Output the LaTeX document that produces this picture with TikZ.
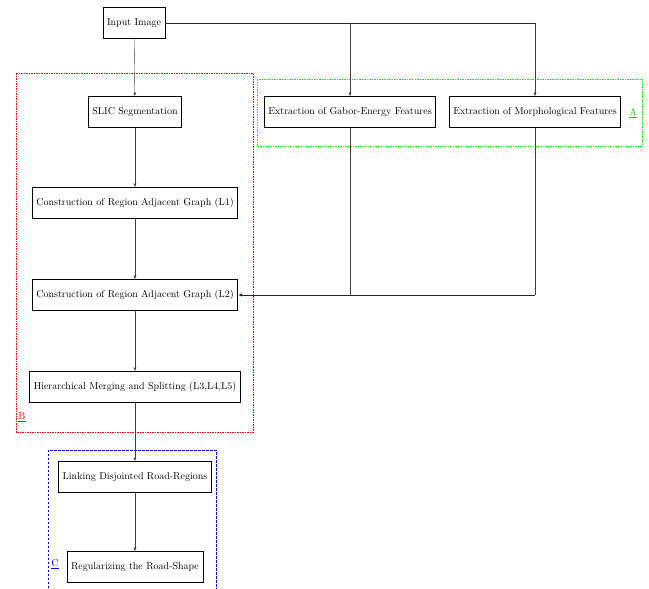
\documentclass[tikz,border=0pt]{standalone}
\usetikzlibrary{arrows.meta,calc}
\begin{document}
\begin{tikzpicture}[x=1pt,y=-1pt,
    stepbox/.style={draw, thick, minimum height=31pt, inner sep=4pt},
    flow/.style={draw=black!75, -{Latex[length=3.5pt,width=3pt]}},
    busline/.style={draw=black!85, thick}]
		%%%%% START %%%%%
		\useasboundingbox (0,0) rectangle (649,589);
		
		% groups
		\draw[red, dash pattern=on 1.5pt off 1pt] (16,73) rectangle (253,432);
		\draw[green, dash pattern=on 1.5pt off 1pt, thick] (257,79) rectangle (642,146);
		\draw[blue, dash pattern=on 2.5pt off 1.5pt] (48,592) |- (216,450) -- (216,592);
		\node[text=green!80!black] (labA) at (633,113) {\underline{A}};
		\node[text=red] (labB) at (22,417) {\underline{B}};
		\node[text=blue] (labC) at (55,564) {\underline{C}};
		
		% steps
		\node[stepbox] (input) at (134,23) {Input Image};
		\node[stepbox] (slic) at (135,112) {SLIC Segmentation};
		\node[stepbox] (rag1) at (135,203) {Construction of Region Adjacent Graph (L1)};
		\node[stepbox] (rag2) at (135,295) {Construction of Region Adjacent Graph (L2)};
		\node[stepbox] (merge) at (135,387) {Hierarchical Merging and Splitting (L3,L4,L5)};
		\node[stepbox] (link) at (135,477) {Linking Disjointed Road-Regions};
		\node[stepbox] (regular) at (135,567) {Regularizing the Road-Shape};
		\node[stepbox] (gabor) at (350,112) {Extraction of Gabor-Energy Features};
		\node[stepbox] (morph) at (535,112) {Extraction of Morphological Features};
		
		% connectors
		\draw[flow] (input) -- (slic);
		\draw[flow] (slic) -- (rag1);
		\draw[flow] (rag1) -- (rag2);
		\draw[flow] (rag2) -- (merge);
		\draw[flow] (merge) -- (link);
		\draw[flow] (link) -- (regular);
		\draw[busline] (input.east) -- (input.east -| morph.north);
		\draw[flow] (input.east -| gabor.north) -- (gabor.north);
		\draw[flow] (input.east -| morph.north) -- (morph.north);
		\draw[draw=black!75] (gabor.south) -- (gabor.south |- rag2.east);
		\draw[draw=black!75] (morph.south) -- (morph.south |- rag2.east);
		\draw[busline, -{Latex[length=4pt,width=3.5pt]}] (morph.south |- rag2.east) -- (rag2.east);
		%%%%% END %%%%%
\end{tikzpicture}
\end{document}
